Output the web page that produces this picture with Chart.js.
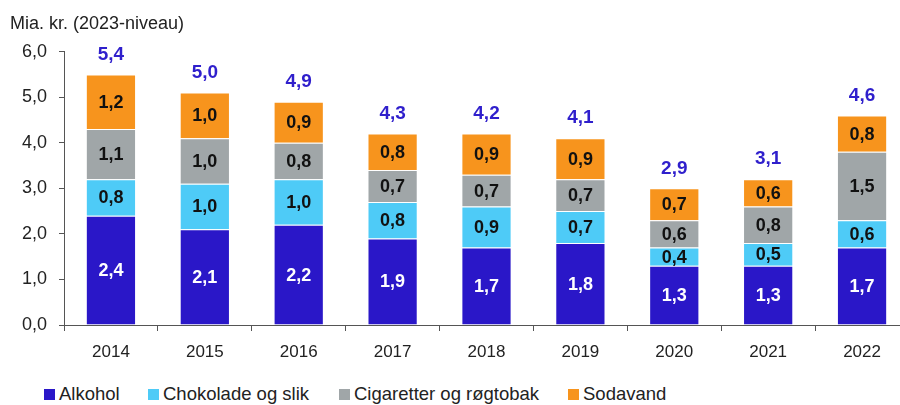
<!DOCTYPE html>
<html>
<head>
<meta charset="utf-8">
<script src="https://cdn.jsdelivr.net/npm/chart.js@4/dist/chart.umd.min.js"></script>
<style>
  html, body { margin: 0; padding: 0; background: #fff; overflow: hidden; width: 900px; height: 405px; }
  #wrap { position: absolute; left: 0; top: 0; width: 912px; height: 372px; }
  .legend { position: absolute; top: 383px; left: 0; font-family: "Liberation Sans", Arial, sans-serif; font-size: 18.5px; color: #222; }
  .item { position: absolute; white-space: nowrap; display: flex; align-items: center; }
  .box { width: 11px; height: 11px; margin-right: 4px; }
</style>
</head>
<body>
<div id="wrap"><canvas id="chart" width="912" height="372"></canvas></div>
<div class="legend" id="legend"></div>
<script>
  // Data
  const years = ["2014", "2015", "2016", "2017", "2018", "2019", "2020", "2021", "2022"]
  const alkohol = [2.4, 2.1, 2.2, 1.9, 1.7, 1.8, 1.3, 1.3, 1.7]
  const chokolade = [0.8, 1.0, 1.0, 0.8, 0.9, 0.7, 0.4, 0.5, 0.6]
  const cigaretter = [1.1, 1.0, 0.8, 0.7, 0.7, 0.7, 0.6, 0.8, 1.5]
  const sodavand = [1.2, 1.0, 0.9, 0.8, 0.9, 0.9, 0.7, 0.6, 0.8]
  const totals = [5.4, 5.0, 4.9, 4.3, 4.2, 4.1, 2.9, 3.1, 4.6]

  const seriesNames = ["Alkohol", "Chokolade og slik", "Cigaretter og røgtobak", "Sodavand"]
  const seriesColors = ["#2a17c8", "#4ecbf7", "#a0a6a8", "#f7941d"]
  const labelColors = ["#ffffff", "#111111", "#111111", "#111111"]
  const totalColor = "#2f1fcc"

  const font = "'Liberation Sans', Arial, sans-serif"
  const fmt = (v) => v.toFixed(1).replace(".", ",")

  // Draw the values inside the segments and the totals above the stacks
  const valueLabels = {
    id: "valueLabels",
    afterDatasetsDraw(chart) {
      const ctx = chart.ctx
      ctx.save()
      ctx.textAlign = "center"
      ctx.textBaseline = "middle"
      ctx.font = `bold 18px ${font}`
      chart.data.datasets.forEach((ds, di) => {
        const meta = chart.getDatasetMeta(di)
        meta.data.forEach((el, i) => {
          ctx.fillStyle = labelColors[di]
          ctx.fillText(fmt(ds.data[i]), el.x, (el.y + el.base) / 2 + 1)
        })
      })
      const top = chart.getDatasetMeta(chart.data.datasets.length - 1)
      ctx.font = `bold 19px ${font}`
      ctx.fillStyle = totalColor
      top.data.forEach((el, i) => {
        ctx.fillText(fmt(totals[i]), el.x, el.y - 20)
      })
      ctx.restore()
    },
  }

  const data = [alkohol, chokolade, cigaretter, sodavand]

  new Chart(document.getElementById("chart"), {
    type: "bar",
    data: {
      labels: years,
      datasets: data.map((d, i) => ({
        label: seriesNames[i],
        data: d,
        backgroundColor: seriesColors[i],
        borderColor: "rgba(255,255,255,0.6)",
        borderWidth: 1,
        categoryPercentage: 1,
        barPercentage: 0.535,
      })),
    },
    options: {
      responsive: false,
      animation: false,
      layout: { padding: { left: 10, right: 3, top: 0, bottom: 0 } },
      plugins: {
        legend: { display: false },
        tooltip: { enabled: false },
        title: {
          display: true,
          text: "Mia. kr. (2023-niveau)",
          align: "start",
          color: "#222",
          font: { family: font, size: 18, weight: "normal" },
          padding: { top: 13, bottom: 17 },
        },
      },
      scales: {
        x: {
          stacked: true,
          grid: { drawOnChartArea: false, drawTicks: true, tickLength: 6, color: "#555", offset: true },
          border: { display: true, color: "#555", width: 1 },
          ticks: { color: "#222", font: { family: font, size: 17 }, padding: 11 },
          afterFit: (scale) => { scale.height = 47 },
        },
        y: {
          stacked: true,
          min: 0,
          max: 6,
          grid: { drawOnChartArea: false, drawTicks: true, tickLength: 5, color: "#555" },
          border: { display: true, color: "#555", width: 1 },
          ticks: {
            stepSize: 1,
            color: "#222",
            font: { family: font, size: 18 },
            padding: 12,
            callback: (v) => fmt(v),
          },
          afterFit: (scale) => { scale.width = 54 },
        },
      },
    },
    plugins: [valueLabels],
  })

  // Legend built from the same series arrays
  const legendLefts = [44, 148, 339, 568]
  const legend = document.getElementById("legend")
  seriesNames.forEach((name, i) => {
    const item = document.createElement("div")
    item.className = "item"
    item.style.left = legendLefts[i] + "px"
    item.innerHTML = `<span class="box" style="background:${seriesColors[i]}"></span><span>${name}</span>`
    legend.appendChild(item)
  })
</script>
</body>
</html>
